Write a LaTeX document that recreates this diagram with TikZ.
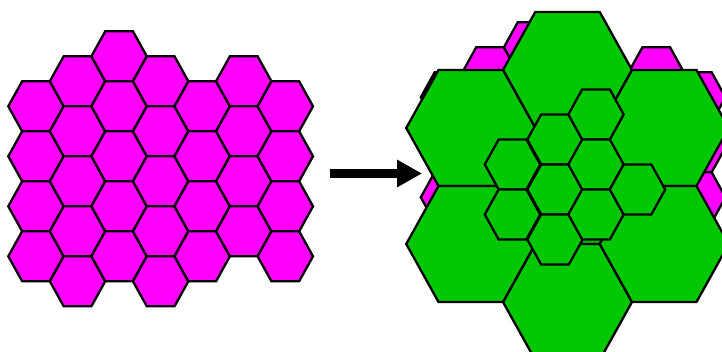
\documentclass[tikz,border=0pt]{standalone}
\usetikzlibrary{arrows.meta}
\definecolor{segmagenta}{RGB}{255,0,255}
\definecolor{seggreen}{RGB}{0,200,0}
\tikzset{
  pinkseg/.style={fill=segmagenta, draw=black, line width=2.3pt, line join=miter},
  greenbig/.style={fill=seggreen, draw=black, line width=2.3pt, line join=miter},
  greensmall/.style={fill=seggreen, draw=black, line width=2.3pt, line join=miter},
  bigarrow/.style={line width=9pt, -{Triangle[length=25pt,width=26pt]}}
}
% #1 style, #2 cx, #3 cy, #4 R (half width), #5 half height
\newcommand{\hexcell}[5]{%
  \path[#1] ({#2-#4},#3) -- ({#2-#4/2},{#3-#5}) -- ({#2+#4/2},{#3-#5})
    -- ({#2+#4},#3) -- ({#2+#4/2},{#3+#5}) -- ({#2-#4/2},{#3+#5}) -- cycle;}
\newcommand{\pinkgrid}{%
  \foreach \c/\ylist in {0/{106.3,156.3,206.3,256.3},
                         1/{81.3,131.3,181.3,231.3,281.3},
                         2/{56.3,106.3,156.3,206.3,256.3},
                         3/{81.3,131.3,181.3,231.3,281.3},
                         4/{106.3,156.3,206.3,256.3},
                         5/{81.3,131.3,181.3,231.3},
                         6/{106.3,156.3,206.3,256.3}}{%
    \pgfmathsetmacro{\cx}{36+41.55*\c}
    \foreach \cy in \ylist {\hexcell{pinkseg}{\cx}{\cy}{27.7}{25}}
  }}
\begin{document}
\begin{tikzpicture}[x=1pt,y=-1pt]
\useasboundingbox (0,0) rectangle (722,352);
\fill[white] (0,0) rectangle (722,352);
\begin{scope}
\clip (0,0) rectangle (722,352);
% left grid
\pinkgrid
% right: pink grid behind
\begin{scope}[shift={(412.5,-9)}]
\pinkgrid
\end{scope}
% large green segments
\foreach \cx/\cy in {567.5/186, 567.5/70, 567.5/302, 470.75/128, 470.75/244, 664.25/128, 664.25/244}
  {\hexcell{greenbig}{\cx}{\cy}{64.5}{58}}
% small green segments
\foreach \cx/\cy in {512.5/164.5, 512.5/214.5, 555/139.5, 555/189.5, 555/239.5,
                     596/114.5, 596/164.5, 596/214.5, 637.5/189.5}
  {\hexcell{greensmall}{\cx}{\cy}{27.7}{25}}
% arrow
\coordinate (arrowtail) at (330,173.5);
\coordinate (arrowtip) at (422,173.5);
\draw[bigarrow] (arrowtail) -- (arrowtip);
\end{scope}
\end{tikzpicture}
\end{document}
